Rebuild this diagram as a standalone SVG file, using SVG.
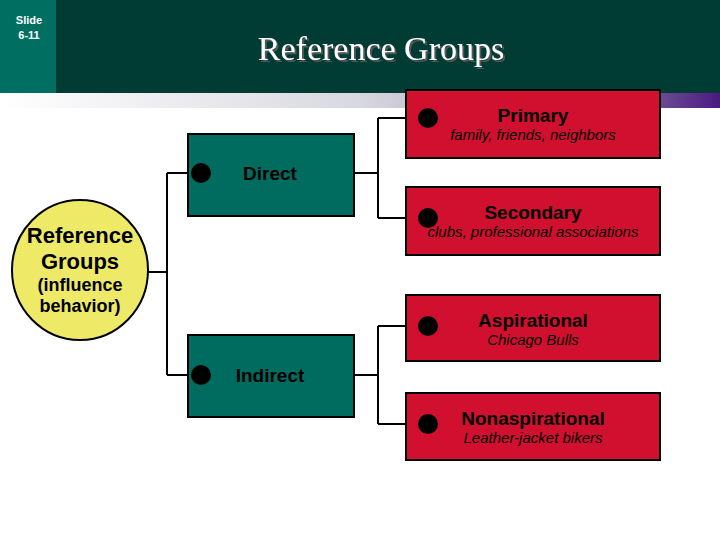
<svg xmlns="http://www.w3.org/2000/svg" width="720" height="540" viewBox="0 0 720 540">
<defs>
<linearGradient id="band" x1="0" x2="1" y1="0" y2="0">
<stop offset="0" stop-color="#ffffff"/><stop offset="0.5" stop-color="#d8d8e0"/><stop offset="0.8" stop-color="#9a90b0"/><stop offset="1" stop-color="#4a1a80"/>
</linearGradient>
<filter id="sh" x="-10%" y="-30%" width="120%" height="160%"><feDropShadow dx="2" dy="2" stdDeviation="0" flood-color="#555"/></filter>
</defs>
<style>
.ln{fill:none;stroke:#000;stroke-width:2}
.g{fill:#006b5f;stroke:#000;stroke-width:2}
.r{fill:#d0102e;stroke:#000;stroke-width:2}
.t{font-family:"Liberation Sans",Arial,sans-serif;font-weight:bold;fill:#000;text-anchor:middle}
.i{font-family:"Liberation Sans",Arial,sans-serif;font-style:italic;font-size:15px;fill:#000;text-anchor:middle}
</style>
<rect width="720" height="540" fill="#fff"/>
<rect x="0" y="93" width="720" height="15" fill="url(#band)"/>
<rect x="0" y="0" width="720" height="93" fill="#003b34"/>
<rect x="0" y="0" width="56" height="93" fill="#006f62"/>
<text x="29" y="24" font-family="Liberation Sans,Arial,sans-serif" font-weight="bold" font-size="11" fill="#fff" text-anchor="middle">Slide</text>
<text x="29" y="39" font-family="Liberation Sans,Arial,sans-serif" font-weight="bold" font-size="11" fill="#fff" text-anchor="middle">6-11</text>
<text x="381" y="60" font-family="Liberation Serif,serif" font-size="34" fill="#fff" text-anchor="middle" filter="url(#sh)">Reference Groups</text>
<g id="connectors">
<path class="ln" d="M148 272H167M167 173V375M167 173H201M167 375H201"/>
<path class="ln" d="M354 173H378M378 118V218M378 118H428M378 218H428"/>
<path class="ln" d="M354 375H378M378 326V424M378 326H428M378 424H428"/>
</g>
<g id="root"><ellipse cx="80" cy="270" rx="68" ry="70" fill="#eeea68" stroke="#000" stroke-width="2"/>
<text class="t" x="80" y="243" font-size="22">Reference</text>
<text class="t" x="80" y="269" font-size="22">Groups</text>
<text class="t" x="80" y="291" font-size="18">(influence</text>
<text class="t" x="80" y="312" font-size="18">behavior)</text></g>
<g id="direct"><rect class="g" x="188" y="134" width="166" height="82"/><circle cx="201" cy="173" r="10"/><text class="t" x="270" y="180" font-size="19">Direct</text></g>
<g id="indirect"><rect class="g" x="188" y="335" width="166" height="82"/><circle cx="201" cy="375" r="10"/><text class="t" x="270" y="382" font-size="19">Indirect</text></g>
<g id="primary"><rect class="r" x="406" y="90" width="254" height="68"/><circle cx="428" cy="118" r="10"/><text class="t" x="533" y="122" font-size="19">Primary</text><text class="i" x="533" y="140">family, friends, neighbors</text></g>
<g id="secondary"><rect class="r" x="406" y="187" width="254" height="68"/><circle cx="428" cy="218" r="10"/><text class="t" x="533" y="219" font-size="19">Secondary</text><text class="i" x="533" y="237">clubs, professional associations</text></g>
<g id="aspirational"><rect class="r" x="406" y="295" width="254" height="66"/><circle cx="428" cy="326" r="10"/><text class="t" x="533" y="327" font-size="19">Aspirational</text><text class="i" x="533" y="345">Chicago Bulls</text></g>
<g id="nonaspirational"><rect class="r" x="406" y="393" width="254" height="67"/><circle cx="428" cy="424" r="10"/><text class="t" x="533" y="425" font-size="19">Nonaspirational</text><text class="i" x="533" y="443">Leather-jacket bikers</text></g>
</svg>
